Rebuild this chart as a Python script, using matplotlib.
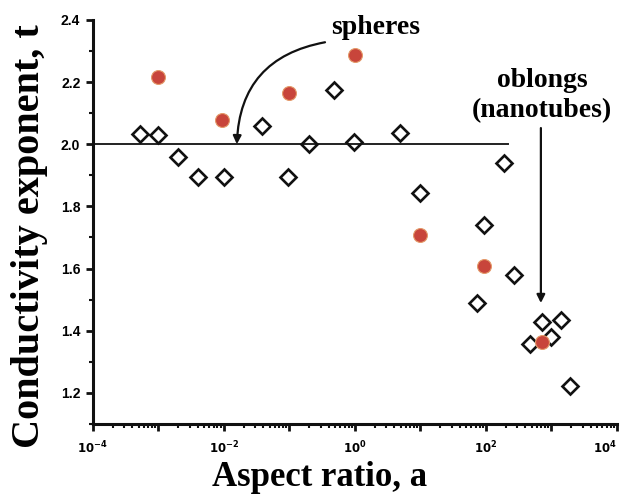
"""
Conductivity exponent vs aspect ratio (spheres -> oblongs)
"""
import math
import matplotlib
matplotlib.use("Agg")
import matplotlib.pyplot as plt
from matplotlib.ticker import LogLocator, FixedLocator, MultipleLocator, FuncFormatter

# open diamonds: aspect ratio and exponent t
diamond_a = [5.2e-4, 1.0e-3, 2.0e-3, 4.0e-3, 1.0e-2, 3.8e-2, 9.5e-2, 0.2, 0.48,
             0.97, 4.9, 10.0, 95, 72, 270, 190, 710, 1400, 980, 470, 1900]
diamond_t = [2.033, 2.03, 1.96, 1.893, 1.893, 2.06, 1.893, 2.0, 2.176,
             2.006, 2.036, 1.844, 1.74, 1.49, 1.58, 1.938, 1.428, 1.434, 1.379, 1.356, 1.223]

# filled red circles
circle_a = [1.0e-3, 9.5e-3, 0.1, 1.0, 10.0, 95, 710]
circle_t = [2.215, 2.078, 2.166, 2.286, 1.707, 1.607, 1.363]

# reference line t = 2
line_a = [1e-4, 220]
line_t = [2.0, 2.0]

serif = ["Liberation Serif", "DejaVu Serif"]
sans = ["Liberation Sans", "DejaVu Sans"]

fig = plt.figure(figsize=(6.27, 4.97), dpi=100)
ax = fig.add_axes([0.148, 0.147, 0.836, 0.813])

ax.plot(line_a, line_t, color="#222222", lw=1.4, zorder=1)
ax.plot(diamond_a, diamond_t, "D", ms=7.8, mfc="none", mec="#111111", mew=1.9,
        ls="none", zorder=3)
ax.plot(circle_a, circle_t, "o", ms=10, mfc="#c8453b", mec="#e49a6a", mew=0.8,
        ls="none", zorder=4)

ax.set_xscale("log")
ax.set_xlim(1e-4, 1e4)
ax.set_ylim(1.1, 2.4)

# only left and bottom spines, thick
for side in ["top", "right"]:
    ax.spines[side].set_visible(False)
for side in ["left", "bottom"]:
    ax.spines[side].set_linewidth(2.2)
    ax.spines[side].set_color("#111111")

ax.xaxis.set_major_locator(LogLocator(base=10, numticks=20))
ax.xaxis.set_minor_locator(LogLocator(base=10, subs=range(2, 10), numticks=100))


def xfmt(v, pos):
    e = int(round(math.log10(v)))
    if e % 2 != 0:
        return ""
    return r"$\mathbf{10^{%d}}$" % e


ax.xaxis.set_major_formatter(FuncFormatter(xfmt))
ax.yaxis.set_major_locator(FixedLocator([1.2, 1.4, 1.6, 1.8, 2.0, 2.2, 2.4]))
ax.yaxis.set_minor_locator(MultipleLocator(0.1))
ax.yaxis.set_major_formatter(FuncFormatter(lambda v, p: "%.1f" % v))

ax.tick_params(which="major", direction="out", length=5, width=2, color="#111111",
               labelsize=8.5, pad=4)
ax.tick_params(which="minor", direction="out", length=3, width=1.5, color="#111111")
ax.tick_params(axis="x", which="major", pad=6)
ax.tick_params(axis="y", which="major", labelsize=10, pad=4)
for lab in ax.get_yticklabels():
    lab.set_fontweight("bold")
    lab.set_family(sans)

# keep the last x label (10^4) inside the figure
fig.canvas.draw()
for tick in ax.xaxis.get_major_ticks():
    if abs(tick.get_loc() - 1e4) < 1:
        tick.label1.set_horizontalalignment("right")
        tick.label1.set_x(1e4)

# axis titles placed directly on the figure
fig.text(0.510, 0.022, "Aspect ratio, a", fontsize=25, fontweight="bold",
         family=serif, ha="center", va="baseline")
fig.text(0.062, 0.525, "Conductivity exponent, t", fontsize=29, fontweight="bold",
         family=serif, ha="center", va="baseline", rotation=90, rotation_mode="anchor")

# annotations
ax.text(2.1, 2.374, "spheres", fontsize=20, fontweight="bold", family=serif,
        ha="center", va="center", clip_on=False)
ax.annotate("", xy=(1.58e-2, 2.0), xytext=(0.35, 2.328),
            arrowprops=dict(arrowstyle="-|>", color="#111111", lw=1.6,
                            shrinkA=0, shrinkB=0, mutation_scale=12,
                            connectionstyle="arc3,rad=0.4"))
ax.text(716, 2.156, "oblongs\n(nanotubes)", fontsize=20, fontweight="bold",
        family=serif, ha="center", va="center", linespacing=1.3)
ax.annotate("", xy=(690, 1.489), xytext=(690, 2.052),
            arrowprops=dict(arrowstyle="-|>", color="#111111", lw=1.6,
                            shrinkA=0, shrinkB=0, mutation_scale=12))

fig.savefig("out.png", dpi=100)
